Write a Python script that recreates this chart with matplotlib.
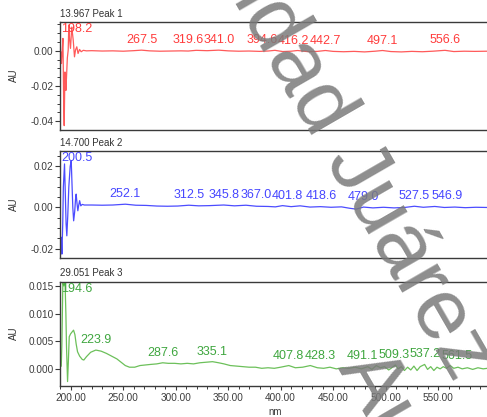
import numpy as np
import matplotlib
matplotlib.use("Agg")
import matplotlib.pyplot as plt
from matplotlib.ticker import MultipleLocator, FormatStrFormatter

plt.rcParams['font.family'] = ['Liberation Sans', 'DejaVu Sans']
plt.rcParams['axes.unicode_minus'] = False

# ---- Peak 1 spectrum (retention 13.967 min) ----
wl1 = [190.6, 191.2, 191.8, 192.6, 193.3, 193.8, 194.5, 195.0, 195.4, 196.0,
       196.8, 197.6, 198.2, 199.0, 199.8, 201.0, 202.4, 203.6, 204.6, 205.8,
       207.0, 208.4, 210.0, 212.0, 215.0, 220.0, 230.0, 240.0, 250.0, 260.0,
       267.5, 275.0, 285.0, 295.0, 305.0, 312.0, 319.6, 330.0, 341.0, 350.0,
       360.0, 370.0, 380.0, 388.0, 394.6, 402.0, 410.0, 416.2, 425.0, 435.0,
       442.7, 450.0, 460.0, 470.0, 480.0, 490.0, 497.1, 505.0, 515.0, 525.0,
       535.0, 545.0, 556.6, 565.0, 575.0, 585.0, 597.0]
au1 = [-0.0006, -0.0072, -0.0010, 0.0071, -0.0300, -0.0425, -0.0120, -0.0175, -0.0225, -0.0150,
       -0.0040, 0.0004, 0.0147, 0.0060, 0.0014, 0.0135, 0.0061, -0.0034, 0.0005, 0.0023,
       -0.0015, 0.0008, -0.0005, 0.0003, 0.0000, 0.0001, -0.0001, 0.0000, -0.0002, 0.0001,
       0.0004, 0.0000, -0.0002, -0.0001, 0.0000, -0.0001, 0.0003, 0.0001, 0.0004, 0.0000,
       -0.0002, -0.0001, -0.0003, -0.0001, 0.0003, -0.0004, -0.0002, 0.0002, -0.0004, -0.0003,
       0.0002, -0.0003, -0.0005, -0.0003, -0.0006, -0.0002, 0.0002, -0.0004, -0.0006, -0.0003,
       -0.0005, -0.0002, 0.0003, -0.0004, -0.0002, -0.0003, -0.0002]
peaks1 = [198.2, 267.5, 319.6, 341.0, 394.6, 416.2, 442.7, 497.1, 556.6]

# ---- Peak 2 spectrum (retention 14.700 min) ----
wl2 = [191.0, 191.6, 192.4, 193.0, 194.1, 194.8, 195.6, 196.3, 197.2, 198.2,
       199.5, 200.5, 201.2, 202.0, 202.8, 203.8, 204.6, 205.2, 206.0, 206.8,
       207.6, 208.5, 209.6, 211.0, 213.0, 220.0, 230.0, 240.0, 252.1, 262.0,
       272.0, 282.0, 292.0, 302.0, 312.5, 322.0, 332.0, 345.8, 356.0, 367.0,
       377.0, 388.0, 395.0, 401.8, 410.0, 418.6, 428.0, 438.0, 448.0, 458.0,
       466.0, 472.0, 479.0, 488.0, 498.0, 508.0, 518.0, 527.5, 536.0, 546.9,
       556.0, 566.0, 576.0, 586.0, 597.0]
au2 = [-0.0146, -0.0227, -0.0080, 0.0100, 0.0212, 0.0080, -0.0080, -0.0138, -0.0040, 0.0100,
       0.0200, 0.0228, 0.0120, 0.0000, -0.0065, -0.0020, 0.0040, 0.0065, 0.0020, -0.0016,
       0.0010, 0.0033, 0.0008, 0.0015, 0.0012, 0.0012, 0.0011, 0.0012, 0.0016, 0.0011,
       0.0010, 0.0007, 0.0006, 0.0007, 0.0011, 0.0008, 0.0009, 0.0012, 0.0008, 0.0011,
       0.0006, 0.0005, 0.0003, 0.0009, 0.0004, 0.0008, 0.0002, 0.0004, 0.0001, 0.0003,
       -0.0004, -0.0008, 0.0002, -0.0002, 0.0001, -0.0002, 0.0000, 0.0006, 0.0001, 0.0005,
       0.0000, 0.0002, -0.0001, 0.0001, 0.0000]
peaks2 = [200.5, 252.1, 312.5, 345.8, 367.0, 401.8, 418.6, 479.0, 527.5, 546.9]

# ---- Peak 3 spectrum (retention 29.051 min) ----
wl3 = [191.0, 191.6, 192.5, 193.5, 194.6, 195.4, 196.0, 197.0, 197.8, 198.6,
       199.8, 201.0, 202.7, 204.0, 205.2, 206.5, 208.5, 211.0, 212.5, 215.0,
       219.0, 223.9, 229.0, 234.0, 239.0, 244.0, 248.0, 252.0, 256.0, 261.0,
       266.0, 271.0, 276.0, 282.0, 287.6, 293.0, 299.0, 305.0, 311.0, 317.0,
       323.0, 329.0, 335.1, 341.0, 346.0, 352.0, 358.0, 364.0, 370.0, 376.0,
       382.0, 388.0, 394.0, 400.0, 407.8, 414.0, 421.0, 428.3, 435.0, 441.0,
       447.0, 453.0, 459.0, 465.0, 471.0, 477.0, 483.0, 487.0, 491.1, 495.0,
       499.0, 503.0, 506.0, 509.3, 512.0, 515.0, 518.0, 521.0, 524.0, 527.0,
       530.0, 533.0, 537.2, 540.0, 543.0, 546.0, 549.0, 552.0, 555.0, 558.0,
       561.5, 565.0, 569.0, 573.0, 578.0, 583.0, 588.0, 593.0, 597.0]
au3 = [0.0005, 0.0045, 0.0155, 0.0150, 0.0158, 0.0100, 0.0040, -0.0023, 0.0015, 0.0058,
       0.0063, 0.0066, 0.0070, 0.0062, 0.0045, 0.0031, 0.0023, 0.0017, 0.0016, 0.0022,
       0.0030, 0.0034, 0.0032, 0.0028, 0.0023, 0.0018, 0.0012, 0.0006, 0.0003, 0.0003,
       0.0006, 0.0007, 0.0008, 0.0009, 0.0011, 0.0010, 0.0010, 0.0009, 0.0010, 0.0009,
       0.0011, 0.0012, 0.0013, 0.0011, 0.0009, 0.0006, 0.0005, 0.0004, 0.0003, 0.0003,
       0.0001, 0.0002, 0.0001, 0.0003, 0.0006, 0.0002, 0.0003, 0.0006, 0.0002, 0.0001,
       0.0003, 0.0000, 0.0002, 0.0001, 0.0003, 0.0000, 0.0004, -0.0001, 0.0006, 0.0002,
       0.0004, -0.0002, 0.0002, 0.0007, 0.0000, 0.0004, -0.0003, 0.0003, -0.0002, 0.0005,
       -0.0003, 0.0004, 0.0008, -0.0001, 0.0004, -0.0003, 0.0003, 0.0000, 0.0004, 0.0001,
       0.0006, 0.0001, 0.0003, 0.0000, 0.0002, -0.0001, 0.0002, 0.0000, 0.0001]
peaks3 = [194.6, 223.9, 287.6, 335.1, 407.8, 428.3, 491.1, 509.3, 537.2, 561.5]

titles = ["13.967 Peak 1", "14.700 Peak 2", "29.051 Peak 3"]
x_ticks = [200, 250, 300, 350, 400, 450, 500, 550]

# horizontal label nudges (pixels) where crowded labels are spread apart
nudge1 = {319.6: -8, 394.6: -13, 416.2: -4}
nudge2 = {367.0: 10, 401.8: 5, 418.6: 21, 546.9: 12}
nudge3 = {428.3: 10, 491.1: -14, 509.3: -1, 561.5: 7}

W, H = 487, 417
fig = plt.figure(figsize=(W / 100, H / 100), dpi=100)


def axes_px(left, top, right, bottom):
    return fig.add_axes([left / W, 1 - bottom / H, (right - left) / W, (bottom - top) / H])


SPINE = '#3a3a3a'
TICKC = '#3c3c3c'
TICK_FS = 7.2

panels = [
    dict(box=(60, 22, 490, 129.5), wl=wl1, au=au1, peaks=peaks1, nudge=nudge1,
         line='#ff5a5a', text='#ff3c3c', ylim=(-0.0447, 0.0164), major=0.02, minor=0.005, fmt='%.2f'),
    dict(box=(60, 151, 490, 258), wl=wl2, au=au2, peaks=peaks2, nudge=nudge2,
         line='#4c4cff', text='#4646ff', ylim=(-0.0246, 0.0275), major=0.02, minor=0.005, fmt='%.2f'),
    dict(box=(60, 281.5, 490, 386), wl=wl3, au=au3, peaks=peaks3, nudge=nudge3,
         line='#6cc05a', text='#3fa63f', ylim=(-0.0031, 0.0158), major=0.005, minor=None, fmt='%.3f'),
]

for i, p in enumerate(panels):
    ax = axes_px(*p['box'])
    ax.plot(p['wl'], p['au'], color=p['line'], lw=0.9, zorder=2)
    ax.set_xlim(189.8, 599.5)
    ax.set_ylim(*p['ylim'])
    for side in ('left', 'bottom', 'top'):
        ax.spines[side].set_color(SPINE)
        ax.spines[side].set_linewidth(1.0)
    ax.spines['right'].set_visible(False)
    ax.yaxis.set_major_locator(MultipleLocator(p['major']))
    ax.yaxis.set_major_formatter(FormatStrFormatter(p['fmt']))
    if p['minor']:
        ax.yaxis.set_minor_locator(MultipleLocator(p['minor']))
    ax.tick_params(axis='y', which='major', direction='out', length=3.5, width=0.8,
                   colors=SPINE, labelcolor=TICKC, labelsize=TICK_FS, pad=1.2)
    ax.tick_params(axis='y', which='minor', direction='out', length=2.2, width=0.7, colors=SPINE)
    if i < 2:
        ax.tick_params(axis='x', which='both', bottom=False, labelbottom=False)
    else:
        ax.set_xticks(x_ticks)
        ax.xaxis.set_major_formatter(FormatStrFormatter('%.2f'))
        ax.xaxis.set_minor_locator(MultipleLocator(10))
        ax.tick_params(axis='x', which='major', direction='out', length=3, width=0.8,
                       colors=SPINE, labelcolor=TICKC, labelsize=TICK_FS, pad=2)
        ax.tick_params(axis='x', which='minor', direction='out', length=2.5, width=0.7, colors=SPINE)
        ax.set_xlabel('nm', fontsize=7, color=TICKC, labelpad=3)

    # panel header
    ax.annotate(titles[i], xy=(0, 1), xycoords='axes fraction', xytext=(0, 3),
                textcoords='offset pixels', ha='left', va='bottom', fontsize=7, color='#333333')

    # peak wavelength labels
    for pk in p['peaks']:
        y = float(np.interp(pk, p['wl'], p['au']))
        txt = f"{pk:.1f}"
        if pk < 205:
            ax.annotate(txt, xy=(0, 1), xycoords='axes fraction', xytext=(1, -1),
                        textcoords='offset pixels', ha='left', va='top',
                        fontsize=9, color=p['text'], zorder=3)
        else:
            ax.annotate(txt, xy=(pk, y), xytext=(p['nudge'].get(pk, 0), 4),
                        textcoords='offset pixels', ha='center', va='bottom',
                        fontsize=9, color=p['text'], zorder=3)

    top, bottom = p['box'][1], p['box'][3]
    fig.text(14 / W, 1 - (top + bottom) / 2 / H, 'AU', rotation=90, ha='center', va='center',
             fontsize=7, color='#333333')

# diagonal watermark
WM = dict(rotation=-60, rotation_mode='anchor', fontsize=62, color='#7a7a7a',
          alpha=0.85, zorder=10)
fig.text(362 / W, 1 - 180 / H, 'idad Juárez', ha='center', va='center', **WM)
fig.text(356 / W, 1 - 356 / H, 'Autónoma', ha='left', va='center', **WM)

fig.savefig('out.png', dpi=100)
